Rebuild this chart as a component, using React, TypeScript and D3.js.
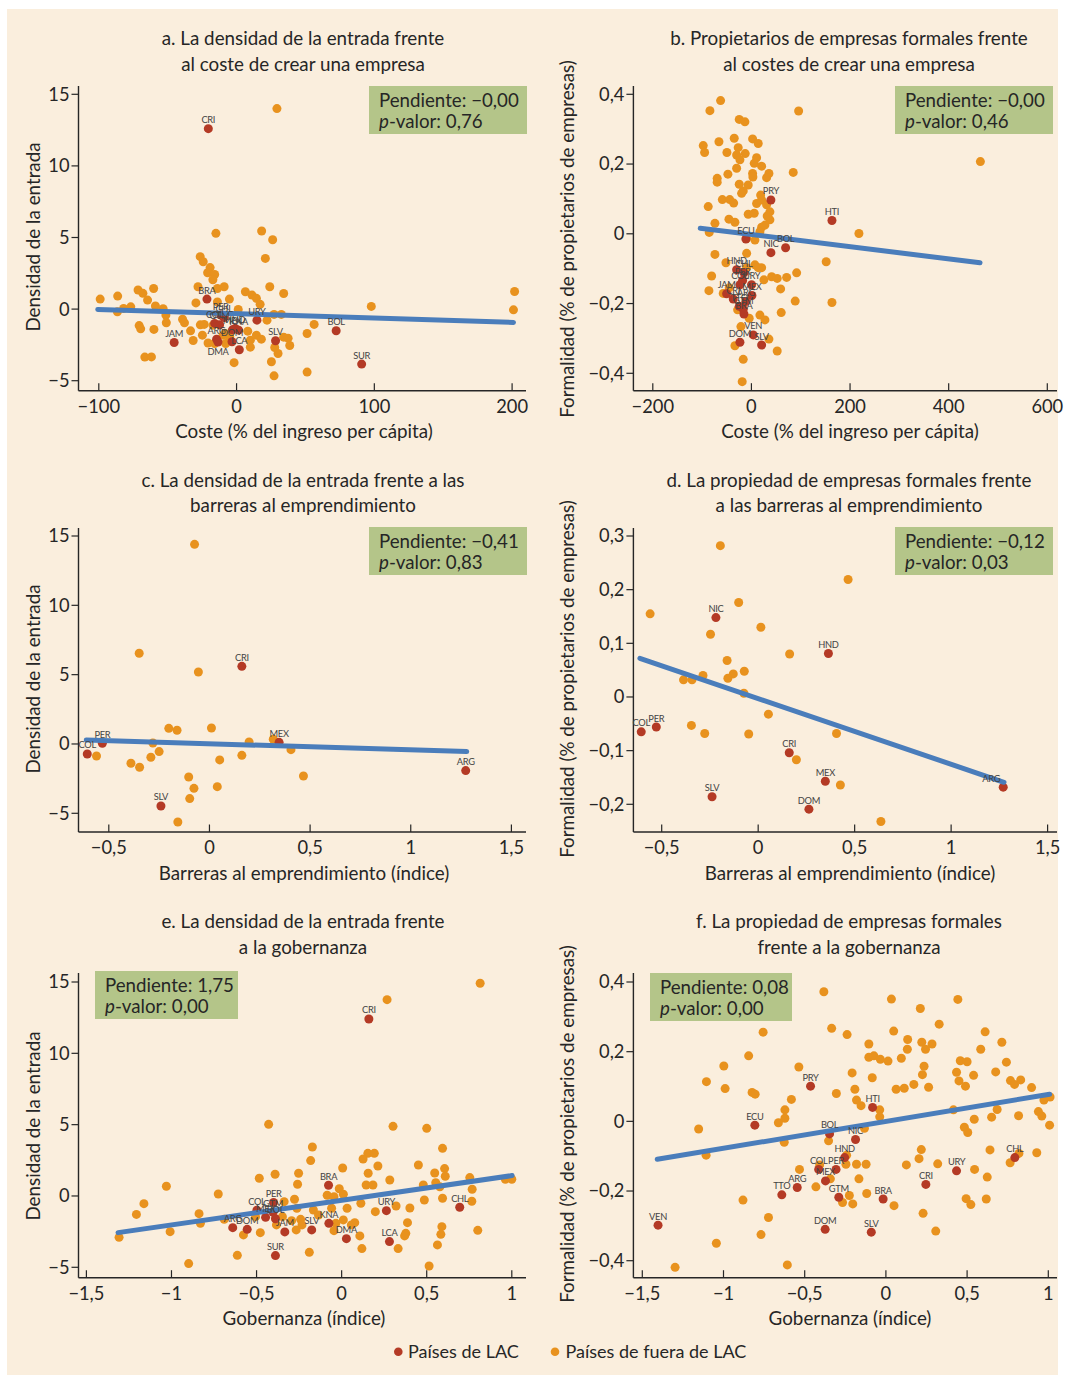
import React from 'react';
import * as d3 from 'd3';

type Pt = [number, number];
type Lac = { c: string; x: number; y: number; pos?: string };

// ---------- Panel a: entry density vs cost ----------
const otherA: Pt[] = [
  [-99, 0.7], [-86.3, 0.91], [-86.5, -0.19], [-82, 0.05], [-76.8, 0.16], [-71.5, 1.33], [-68, 1.1], [-64.6, 0.63],
  [-60.2, 1.44], [-58.9, 0.22], [-53.3, 0.03], [-51.3, -0.42], [-51, -0.95], [-70.7, -1.15], [-69.6, -1.38], [-60, -1.42],
  [-66.6, -3.35], [-61.8, -3.34], [-39.2, -0.71], [-37.8, -0.96], [-33.4, -1.52], [-31.5, -2.19], [-29.5, 0.43],
  [-26.3, -1.1], [-23.5, -1.07], [-24.8, -1.82], [-28, 1.56], [-26.4, 3.66], [-24.2, 3.31], [-19.2, 2.9], [-21, 2.54],
  [-15.9, 2.42], [-17.2, 2.05], [-15, 5.29], [-13.9, 1.44], [-9, 1.56], [-5.2, 0.7], [-20.7, -2.37], [-1.8, -3.74],
  [1.2, -0.03], [-13.9, 0.5], [-7.9, -2.4], [-17.1, -1.12], [-9.8, -1.82], [-5, -1.93], [-15.9, -2.4], [-8.3, -1.7],
  [6.4, 1.21], [11.2, 0.98], [14.4, 0.75], [17.1, 0.33], [24.1, 1.56], [34.2, 1.09], [27.2, -0.37], [32.5, -0.37],
  [22.1, -0.77], [18.2, 5.45], [26.2, 4.84], [20.9, 3.54], [29.3, 14.0], [8.1, -1.54], [10, -2.17], [10, -2.66],
  [14.4, -1.82], [18, -2.1], [25.3, -3.68], [27.2, -4.66], [27.7, -2.68], [30.1, -3.1], [34.2, -1.96], [37.4, -2.03],
  [38.6, -2.54], [51.2, -1.7], [56.3, -1.07], [51.2, -4.4], [97.8, 0.19], [201.8, 1.23], [201, -0.05],
];
const lacA: Lac[] = [
  { c: 'CRI', x: -20.5, y: 12.6 }, { c: 'BRA', x: -21.5, y: 0.7 }, { c: 'PER', x: -11.5, y: -0.42 },
  { c: 'CHL', x: -9.1, y: -0.6 }, { c: 'COL', x: -15.9, y: -1.0 }, { c: 'GTM', x: -12.3, y: -1.1 },
  { c: 'MEX', x: -3, y: -1.45 }, { c: 'HND', x: -1, y: -1.35 }, { c: 'KNA', x: 1.5, y: -1.47 },
  { c: 'URY', x: 14.8, y: -0.77 }, { c: 'ARG', x: -14.5, y: -2.1 }, { c: 'DMA', x: -13.5, y: -2.3, pos: 'b' },
  { c: 'DOM', x: -3.3, y: -2.28 }, { c: 'LCA', x: 2, y: -2.84 }, { c: 'JAM', x: -45.3, y: -2.33 },
  { c: 'SLV', x: 28.3, y: -2.21 }, { c: 'BOL', x: 72.3, y: -1.51 }, { c: 'SUR', x: 90.8, y: -3.84 },
];

// ---------- Panel b: formal owners vs cost ----------
const otherB: Pt[] = [
  [-62.5, 0.382], [-84.2, 0.353], [95.7, 0.352], [-24.7, 0.328], [-13.2, 0.321], [-34.9, 0.274], [2.4, 0.272],
  [13.8, 0.259], [-97.7, 0.253], [-65.9, 0.264], [-94.9, 0.233], [-49.7, 0.233], [-26.8, 0.247], [-12.6, 0.23],
  [-30, 0.226], [-23.3, 0.212], [10.5, 0.218], [5.7, 0.202], [20.7, 0.194], [-30, 0.188], [-47.7, 0.171], [2.4, 0.173],
  [3, 0.163], [35.5, 0.173], [30.8, 0.161], [84.8, 0.176], [-69.4, 0.159], [-69.4, 0.148], [-24.7, 0.142], [-6.5, 0.14],
  [-16.6, 0.123], [-19.9, 0.116], [-59, 0.098], [-44, 0.098], [-36, 0.088], [-87.6, 0.078], [-6.5, 0.056], [5.7, 0.059],
  [-45.6, 0.042], [-33.5, 0.033], [-74, 0.03], [-85.6, 0.004], [20.7, 0.019], [17.2, 0.006], [-9.7, -0.013],
  [7.1, -0.018], [-74, -0.059], [-9.7, -0.056], [-51.7, -0.083], [-80.7, -0.121], [7.1, -0.089], [20.7, -0.097],
  [41, -0.123], [52.3, -0.128], [71.4, -0.125], [91.7, -0.112], [25.3, -0.132], [-86.2, -0.163], [59.2, -0.158],
  [88.8, -0.193], [60.4, -0.226], [-28, -0.218], [-4.5, -0.242], [17.2, -0.233], [27.4, -0.247], [-21.3, -0.266],
  [35.5, -0.302], [-33.5, -0.321], [52.3, -0.336], [-16.6, -0.36], [-18.7, -0.424], [-57.2, -0.171], [-45, -0.155],
  [218, 0.001], [464.3, 0.207], [151.6, -0.08], [163.3, -0.197], [10.5, 0.087], [20.7, 0.097], [18.7, 0.111],
  [30.8, 0.083], [37.5, 0.063], [37.5, 0.04], [27.4, 0.025], [32, 0.051], [-9.7, -0.097], [13.8, -0.097],
];
const lacB: Lac[] = [
  { c: 'PRY', x: 39.5, y: 0.097 }, { c: 'HTI', x: 163.3, y: 0.038 }, { c: 'ECU', x: -11.2, y: -0.015 },
  { c: 'BOL', x: 69.3, y: -0.04 }, { c: 'NIC', x: 39.5, y: -0.054 }, { c: 'HND', x: -30, y: -0.103 },
  { c: 'CHL', x: -15.2, y: -0.112 }, { c: 'PER', x: -17.9, y: -0.134 }, { c: 'COL', x: -23.3, y: -0.146 },
  { c: 'URY', x: 0.3, y: -0.146 }, { c: 'JAM', x: -50.3, y: -0.172 }, { c: 'MEX', x: 1, y: -0.177 },
  { c: 'CRI', x: -36.9, y: -0.187 }, { c: 'ARG', x: -11.2, y: -0.194 }, { c: 'TTO', x: -24.7, y: -0.208 },
  { c: 'GTM', x: -16.6, y: -0.216 }, { c: 'BRA', x: -15.2, y: -0.23 }, { c: 'VEN', x: 3.7, y: -0.29 },
  { c: 'DOM', x: -23.3, y: -0.311 }, { c: 'SLV', x: 20.7, y: -0.319 },
];

// ---------- Panel c: entry density vs barriers ----------
const otherC: Pt[] = [
  [-0.074, 14.4], [-0.349, 6.54], [-0.055, 5.19], [-0.202, 1.13], [-0.161, 0.99], [0.01, 1.15], [-0.281, 0.07],
  [-0.561, -0.87], [-0.291, -0.96], [-0.25, -0.55], [-0.39, -1.39], [-0.347, -1.68], [-0.103, -2.38], [-0.077, -3.2],
  [-0.098, -3.94], [-0.157, -5.63], [0.039, -3.08], [0.051, -1.15], [0.161, -0.82], [0.197, 0.14], [0.317, 0.34],
  [0.405, -0.41], [0.467, -2.31],
];
const lacC: Lac[] = [
  { c: 'CRI', x: 0.161, y: 5.6 }, { c: 'PER', x: -0.532, y: 0.05 }, { c: 'COL', x: -0.607, y: -0.72 },
  { c: 'SLV', x: -0.241, y: -4.47 }, { c: 'MEX', x: 0.346, y: 0.12 }, { c: 'ARG', x: 1.273, y: -1.92 },
];

// ---------- Panel d: formal owners vs barriers ----------
const otherD: Pt[] = [
  [-0.196, 0.282], [0.466, 0.219], [-0.101, 0.176], [-0.56, 0.155], [0.014, 0.13], [-0.247, 0.117], [0.163, 0.08],
  [-0.161, 0.068], [-0.072, 0.048], [-0.129, 0.043], [-0.157, 0.035], [-0.286, 0.04], [-0.387, 0.032], [-0.343, 0.032],
  [-0.074, 0.007], [0.053, -0.032], [-0.346, -0.053], [-0.277, -0.068], [-0.049, -0.069], [0.406, -0.068],
  [0.198, -0.117], [0.426, -0.164], [0.636, -0.232],
];
const lacD: Lac[] = [
  { c: 'NIC', x: -0.219, y: 0.148 }, { c: 'HND', x: 0.364, y: 0.081 }, { c: 'COL', x: -0.606, y: -0.065 },
  { c: 'PER', x: -0.528, y: -0.056 }, { c: 'CRI', x: 0.161, y: -0.104 }, { c: 'MEX', x: 0.348, y: -0.157 },
  { c: 'SLV', x: -0.239, y: -0.186 }, { c: 'DOM', x: 0.263, y: -0.209 }, { c: 'ARG', x: 1.27, y: -0.168, pos: 'ul' },
];

// ---------- Panel e: entry density vs governance ----------
const otherE: Pt[] = [
  [0.814, 14.91], [0.267, 13.76], [-0.429, 5.02], [0.302, 4.88], [0.5, 4.74], [-0.172, 3.43], [-0.182, 2.48],
  [0.593, 3.34], [0.154, 2.99], [0.192, 2.99], [0.126, 2.59], [0.006, 1.96], [0.213, 2.1], [0.451, 2.17], [0.605, 1.92],
  [0.156, 1.59], [0.547, 1.61], [0.609, 1.38], [0.753, 1.29], [0.962, 1.17], [1.0, 1.17], [0.283, 1.12], [0.48, 0.77],
  [0.553, 0.93], [0.577, 0.65], [0.767, 0.47], [0.144, 0.77], [0.184, 0.77], [-0.014, 0.51], [-0.253, 1.59],
  [-0.259, 0.82], [-0.484, 1.24], [-0.391, 1.52], [-1.03, 0.68], [-0.725, 0.14], [-1.162, -0.54], [-1.206, -1.29],
  [-0.838, -1.24], [-0.83, -1.92], [-1.008, -2.5], [-1.308, -2.9], [-0.899, -4.74], [-0.69, -1.64], [-0.577, -2.73],
  [-0.506, -1.45], [-0.478, -2.57], [-0.613, -4.16], [-0.338, -0.4], [-0.277, -0.23], [-0.263, -0.86], [-0.348, -1.45],
  [-0.383, -2.03], [-0.294, -1.73], [-0.241, -1.64], [-0.267, -2.38], [-0.233, -2.03], [-0.19, -3.95], [-0.166, -0.98],
  [-0.136, -1.33], [-0.085, 0.05], [-0.045, -0.05], [0.01, 0.12], [0.032, -0.86], [-0.059, -0.86], [-0.034, -1.92],
  [-0.045, -2.43], [0.01, -1.68], [0.057, -2.03], [0.077, -1.87], [0.107, -2.8], [0.119, -3.69], [0.113, -0.51],
  [0.198, -1.1], [0.32, -0.7], [0.401, -0.84], [0.387, -1.87], [0.377, -2.62], [0.37, -2.8], [0.332, -3.69],
  [0.486, -0.28], [0.593, -0.16], [0.765, -0.37], [0.589, -2.15], [0.583, -2.69], [0.563, -3.43], [0.514, -4.91],
  [0.8, -2.41],
];
const lacE: Lac[] = [
  { c: 'CRI', x: 0.16, y: 12.41 }, { c: 'BRA', x: -0.077, y: 0.75 }, { c: 'PER', x: -0.4, y: -0.45 },
  { c: 'COL', x: -0.498, y: -1.0 }, { c: 'GTM', x: -0.403, y: -1.14 }, { c: 'MEX', x: -0.447, y: -1.5 },
  { c: 'BOL', x: -0.389, y: -1.6 }, { c: 'ARG', x: -0.64, y: -2.22 }, { c: 'DOM', x: -0.555, y: -2.34 },
  { c: 'JAM', x: -0.334, y: -2.52 }, { c: 'SLV', x: -0.176, y: -2.38 }, { c: 'KNA', x: -0.075, y: -1.92 },
  { c: 'DMA', x: 0.028, y: -2.99 }, { c: 'URY', x: 0.263, y: -1.03 }, { c: 'LCA', x: 0.281, y: -3.2 },
  { c: 'CHL', x: 0.694, y: -0.79 }, { c: 'SUR', x: -0.389, y: -4.18 },
];

// ---------- Panel f: formal owners vs governance ----------
const otherF: Pt[] = [
  [-0.382, 0.372], [0.034, 0.351], [0.443, 0.35], [0.212, 0.324], [0.328, 0.279], [-0.756, 0.256], [-0.334, 0.267],
  [-0.239, 0.249], [0.048, 0.259], [0.611, 0.257], [0.134, 0.235], [0.221, 0.227], [0.284, 0.222], [0.244, 0.207],
  [0.132, 0.207], [0.714, 0.227], [-0.105, 0.222], [0.584, 0.207], [-0.845, 0.188], [-0.998, 0.159], [-0.536, 0.156],
  [-0.105, 0.184], [-0.074, 0.188], [-0.034, 0.178], [0.013, 0.173], [0.095, 0.181], [0.458, 0.174], [0.5, 0.171],
  [0.742, 0.17], [0.235, 0.158], [-0.208, 0.139], [-0.084, 0.125], [0.225, 0.134], [0.435, 0.141], [0.54, 0.132],
  [0.676, 0.142], [0.45, 0.116], [0.49, 0.101], [0.263, 0.098], [0.172, 0.106], [0.113, 0.095], [0.063, 0.092],
  [0.767, 0.117], [0.792, 0.106], [0.83, 0.119], [0.897, 0.097], [-1.105, 0.114], [-0.99, 0.094], [-0.824, 0.083],
  [-0.805, 0.078], [-0.191, 0.092], [-0.305, 0.08], [-0.582, 0.063], [-0.181, 0.061], [-0.153, 0.045], [-0.038, 0.033],
  [-0.038, 0.013], [0.416, 0.033], [0.685, 0.034], [0.651, 0.012], [0.817, 0.016], [0.939, 0.028], [0.96, 0.015],
  [0.973, 0.061], [1.011, 0.07], [1.008, -0.011], [0.544, 0.006], [-0.622, 0.033], [-0.622, 0.009], [-0.662, -0.004],
  [-1.153, -0.022], [-0.132, -0.02], [0.483, -0.017], [0.504, -0.032], [-0.626, -0.06], [-0.353, -0.056],
  [-1.107, -0.097], [0.218, -0.081], [0.641, -0.082], [0.929, -0.09], [0.819, -0.092], [-0.242, -0.097],
  [0.126, -0.125], [0.319, -0.122], [0.204, -0.107], [0.765, -0.119], [-0.246, -0.123], [-0.181, -0.123],
  [-0.122, -0.123], [-0.408, -0.125], [-0.532, -0.138], [0.546, -0.138], [0.624, -0.16], [-0.166, -0.165],
  [-0.342, -0.165], [-0.431, -0.188], [-0.225, -0.213], [-0.118, -0.207], [-0.267, -0.233], [-0.204, -0.237],
  [0.05, -0.242], [0.494, -0.222], [0.523, -0.239], [0.618, -0.223], [-0.88, -0.226], [0.229, -0.264],
  [-0.723, -0.276], [-0.769, -0.325], [0.307, -0.315], [-1.044, -0.35], [-0.607, -0.412], [-1.298, -0.419],
];
const lacF: Lac[] = [
  { c: 'PRY', x: -0.464, y: 0.101 }, { c: 'HTI', x: -0.082, y: 0.04 }, { c: 'ECU', x: -0.807, y: -0.011 },
  { c: 'BOL', x: -0.347, y: -0.036 }, { c: 'NIC', x: -0.187, y: -0.052 }, { c: 'HND', x: -0.254, y: -0.104 },
  { c: 'COL', x: -0.414, y: -0.138 }, { c: 'PER', x: -0.307, y: -0.138 }, { c: 'MEX', x: -0.372, y: -0.171 },
  { c: 'ARG', x: -0.546, y: -0.19 }, { c: 'TTO', x: -0.641, y: -0.211 }, { c: 'GTM', x: -0.29, y: -0.218 },
  { c: 'BRA', x: -0.017, y: -0.223 }, { c: 'CRI', x: 0.246, y: -0.181 }, { c: 'URY', x: 0.435, y: -0.142 },
  { c: 'CHL', x: 0.794, y: -0.104 }, { c: 'VEN', x: -1.403, y: -0.298 }, { c: 'DOM', x: -0.374, y: -0.31 },
  { c: 'SLV', x: -0.09, y: -0.318 },
];

// fitted lines: intercept b, slope m, x range
const fitA = { b: -0.324, m: -0.00302, from: -100.75, to: 201 };
const fitB = { b: -0.0021, m: -0.0001745, from: -103.8, to: 463.6 };
const fitC = { b: 0.018, m: -0.444, from: -0.612, to: 1.278 };
const fitD = { b: -0.003, m: -0.1224, from: -0.613, to: 1.274 };
const fitE = { b: -0.301, m: 1.727, from: -1.314, to: 1.002 };
const fitF = { b: 0.0, m: 0.0774, from: -1.408, to: 1.008 };

const statsSlope = ['−0,00', '−0,00', '−0,41', '−0,12', '1,75', '0,08'];
const statsP = ['0,76', '0,46', '0,83', '0,03', '0,00', '0,00'];

const ticksCostA = [-100, 0, 100, 200];
const ticksCostB = [-200, 0, 200, 400, 600];
const ticksBarr = [-0.5, 0, 0.5, 1, 1.5];
const ticksGov = [-1.5, -1, -0.5, 0, 0.5, 1];
const ticksDens = [-5, 0, 5, 10, 15];
const ticksForm4 = [-0.4, -0.2, 0, 0.2, 0.4];
const ticksForm3 = [-0.2, -0.1, 0, 0.1, 0.2, 0.3];

const titles = [
  ['a. La densidad de la entrada frente', 'al coste de crear una empresa'],
  ['b. Propietarios de empresas formales frente', 'al costes de crear una empresa'],
  ['c. La densidad de la entrada frente a las', 'barreras al emprendimiento'],
  ['d. La propiedad de empresas formales frente', 'a las barreras al emprendimiento'],
  ['e. La densidad de la entrada frente', 'a la gobernanza'],
  ['f. La propiedad de empresas formales', 'frente a la gobernanza'],
];
const xTitles = [
  'Coste (% del ingreso per cápita)', 'Coste (% del ingreso per cápita)',
  'Barreras al emprendimiento (índice)', 'Barreras al emprendimiento (índice)',
  'Gobernanza (índice)', 'Gobernanza (índice)',
];
const yTitleDens = 'Densidad de la entrada';
const yTitleForm = 'Formalidad (% de propietarios de empresas)';
const legendItems = ['Países de LAC', 'Países de fuera de LAC'];

const ORANGE = '#E8921E';
const RED = '#B43A25';
const BLUE = '#4A7DBB';
const BOX = '#B4C589';
const BG = '#FAEEDD';
const INK = '#262626';
const FONT = 'Lato, "Open Sans", sans-serif';
const TITLE_FS = 18.8;

const fmt = (v: number) => (v < 0 ? '−' : '') + String(Math.abs(v)).replace('.', ',');

type Cfg = {
  other: Pt[]; lac: Lac[]; fit: { b: number; m: number; from: number; to: number };
  xDom: number[]; xRng: number[]; yDom: number[]; yRng: number[];
  axL: number; axR: number; axT: number; axB: number;
  xTicks: number[]; yTicks: number[];
  title: string[]; titleX: number; titleY: number;
  xTitle: string; xTitleY: number; yTitle: string; yTitleX: number; yTitleY: number;
  box: { x: number; y: number; w: number; h: number }; slope: string; p: string;
};

const LEFT = { axL: 78.5, axR: 526, titleX: 303, yTitleX: 40 };
const RIGHT = { axL: 633.4, axR: 1057, titleX: 849, yTitleX: 574 };

const panels: Cfg[] = [
  {
    other: otherA, lac: lacA, fit: fitA, xDom: [-100, 200], xRng: [98.8, 512.1], yDom: [-5, 15], yRng: [380.7, 94.3],
    axL: LEFT.axL, axR: LEFT.axR, axT: 86, axB: 390.7, xTicks: ticksCostA, yTicks: ticksDens,
    title: titles[0], titleX: LEFT.titleX, titleY: 45, xTitle: xTitles[0], xTitleY: 438.3,
    yTitle: yTitleDens, yTitleX: LEFT.yTitleX, yTitleY: 237, box: { x: 369, y: 86, w: 158, h: 48 },
    slope: statsSlope[0], p: statsP[0],
  },
  {
    other: otherB, lac: lacB, fit: fitB, xDom: [-200, 600], xRng: [652.8, 1047.3], yDom: [-0.4, 0.4], yRng: [373.3, 94.3],
    axL: RIGHT.axL, axR: RIGHT.axR, axT: 86, axB: 390.7, xTicks: ticksCostB, yTicks: ticksForm4,
    title: titles[1], titleX: RIGHT.titleX, titleY: 45, xTitle: xTitles[1], xTitleY: 438.3,
    yTitle: yTitleForm, yTitleX: RIGHT.yTitleX, yTitleY: 239, box: { x: 895, y: 86, w: 158, h: 48 },
    slope: statsSlope[1], p: statsP[1],
  },
  {
    other: otherC, lac: lacC, fit: fitC, xDom: [-0.5, 1.5], xRng: [108.8, 511.4], yDom: [-5, 15], yRng: [813.3, 536],
    axL: LEFT.axL, axR: LEFT.axR, axT: 528, axB: 832, xTicks: ticksBarr, yTicks: ticksDens,
    title: titles[2], titleX: LEFT.titleX, titleY: 486.7, xTitle: xTitles[2], xTitleY: 880,
    yTitle: yTitleDens, yTitleX: LEFT.yTitleX, yTitleY: 679, box: { x: 369, y: 527, w: 158, h: 48 },
    slope: statsSlope[2], p: statsP[2],
  },
  {
    other: otherD, lac: lacD, fit: fitD, xDom: [-0.5, 1.5], xRng: [661.7, 1047.6], yDom: [-0.2, 0.3], yRng: [804.3, 536],
    axL: RIGHT.axL, axR: RIGHT.axR, axT: 528, axB: 832, xTicks: ticksBarr, yTicks: ticksForm3,
    title: titles[3], titleX: RIGHT.titleX, titleY: 486.7, xTitle: xTitles[3], xTitleY: 880,
    yTitle: yTitleForm, yTitleX: RIGHT.yTitleX, yTitleY: 679, box: { x: 895, y: 527, w: 158, h: 48 },
    slope: statsSlope[3], p: statsP[3],
  },
  {
    other: otherE, lac: lacE, fit: fitE, xDom: [-1.5, 1], xRng: [86.4, 511.8], yDom: [-5, 15], yRng: [1267.3, 982],
    axL: LEFT.axL, axR: LEFT.axR, axT: 973, axB: 1277.7, xTicks: ticksGov, yTicks: ticksDens,
    title: titles[4], titleX: LEFT.titleX, titleY: 928.3, xTitle: xTitles[4], xTitleY: 1325,
    yTitle: yTitleDens, yTitleX: LEFT.yTitleX, yTitleY: 1126, box: { x: 95, y: 971, w: 143, h: 48 },
    slope: statsSlope[4], p: statsP[4],
  },
  {
    other: otherF, lac: lacF, fit: fitF, xDom: [-1.5, 1], xRng: [642.3, 1048.3], yDom: [-0.4, 0.4], yRng: [1260.7, 982],
    axL: RIGHT.axL, axR: RIGHT.axR, axT: 973, axB: 1277.7, xTicks: ticksGov, yTicks: ticksForm4,
    title: titles[5], titleX: RIGHT.titleX, titleY: 928.3, xTitle: xTitles[5], xTitleY: 1325,
    yTitle: yTitleForm, yTitleX: RIGHT.yTitleX, yTitleY: 1124, box: { x: 650, y: 973, w: 142, h: 48 },
    slope: statsSlope[5], p: statsP[5],
  },
];

function Panel({ cfg }: { cfg: Cfg }) {
  const x = d3.scaleLinear().domain(cfg.xDom).range(cfg.xRng);
  const y = d3.scaleLinear().domain(cfg.yDom).range(cfg.yRng);
  const line = d3.line<number>().x((v) => x(v)).y((v) => y(cfg.fit.b + cfg.fit.m * v));
  const R = 4.5;
  return (
    <g fontFamily={FONT}>
      {cfg.title.map((t, i) => (
        <text key={i} x={cfg.titleX} y={cfg.titleY + i * 25.5} textAnchor="middle" fontSize={TITLE_FS} fill={INK}>{t}</text>
      ))}
      <text x={cfg.titleX + 1} y={cfg.xTitleY} textAnchor="middle" fontSize={TITLE_FS} fill={INK}>{cfg.xTitle}</text>
      <text transform={`translate(${cfg.yTitleX},${cfg.yTitleY}) rotate(-90)`} textAnchor="middle" fontSize={TITLE_FS} fill={INK}>{cfg.yTitle}</text>
      <rect x={cfg.box.x} y={cfg.box.y} width={cfg.box.w} height={cfg.box.h} fill={BOX} />
      <text x={cfg.box.x + 10} y={cfg.box.y + 21} fontSize={18.7} fill={INK}>Pendiente: {cfg.slope}</text>
      <text x={cfg.box.x + 10} y={cfg.box.y + 42} fontSize={18.7} fill={INK}>
        <tspan fontStyle="italic">p</tspan>-valor: {cfg.p}
      </text>
      {/* axes */}
      <line x1={cfg.axL} x2={cfg.axL} y1={cfg.axT} y2={cfg.axB} stroke={INK} strokeWidth={1.4} />
      <line x1={cfg.axL} x2={cfg.axR} y1={cfg.axB} y2={cfg.axB} stroke={INK} strokeWidth={1.4} />
      {cfg.yTicks.map((t) => (
        <g key={'y' + t}>
          <line x1={cfg.axL - 7} x2={cfg.axL} y1={y(t)} y2={y(t)} stroke={INK} strokeWidth={1.2} />
          <text x={cfg.axL - 9} y={y(t)} dy="0.35em" textAnchor="end" fontSize={18.3} fill={INK}>{fmt(t)}</text>
        </g>
      ))}
      {cfg.xTicks.map((t) => (
        <g key={'x' + t}>
          <line x1={x(t)} x2={x(t)} y1={cfg.axB - 7.5} y2={cfg.axB} stroke={INK} strokeWidth={1.2} />
          <text x={x(t)} y={cfg.axB + 22} textAnchor="middle" fontSize={18.3} fill={INK}>{fmt(t)}</text>
        </g>
      ))}
      {/* points */}
      {cfg.other.map((d, i) => (
        <circle key={'o' + i} cx={x(d[0])} cy={y(d[1])} r={R} fill={ORANGE} />
      ))}
      {cfg.lac.map((d) => (
        <circle key={'l' + d.c} cx={x(d.x)} cy={y(d.y)} r={R} fill={RED} />
      ))}
      <path d={line([cfg.fit.from, cfg.fit.to]) || ''} stroke={BLUE} strokeWidth={5} fill="none" strokeLinecap="round" />
      {cfg.lac.map((d) => {
        const cx = x(d.x);
        const cy = y(d.y);
        let lx = cx, ly = cy - 5.5, anchor = 'middle';
        if (d.pos === 'b') { ly = cy + 13; }
        if (d.pos === 'ul') { lx = cx - 3; anchor = 'end'; }
        return (
          <text key={'t' + d.c} x={lx} y={ly} textAnchor={anchor} fontSize={9.3} fill="#444" letterSpacing={-0.3}>{d.c}</text>
        );
      })}
    </g>
  );
}

export default function App() {
  return (
    <svg width={1065} height={1375} style={{ position: 'absolute', left: 0, top: 0, display: 'block' }}>
      <rect x={0} y={0} width={1065} height={1375} fill="#ffffff" />
      <rect x={7} y={9} width={1051} height={1366} fill={BG} />
      {panels.map((p, i) => <Panel key={i} cfg={p} />)}
      <g fontFamily={FONT}>
        <circle cx={398.3} cy={1351.7} r={4.3} fill={RED} />
        <text x={408} y={1357.5} fontSize={18} fill={INK}>{legendItems[0]}</text>
        <circle cx={555} cy={1351.7} r={4.3} fill={ORANGE} />
        <text x={565.5} y={1357.5} fontSize={18} fill={INK}>{legendItems[1]}</text>
      </g>
    </svg>
  );
}
